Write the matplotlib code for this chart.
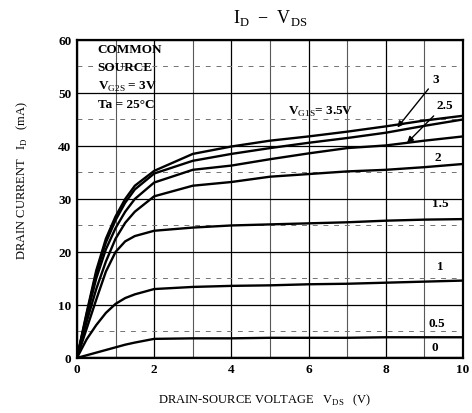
import numpy as np
import matplotlib
matplotlib.use('Agg')
import matplotlib.pyplot as plt
from matplotlib.ticker import MultipleLocator

plt.rcParams['font.family'] = ['Liberation Serif', 'DejaVu Serif']
plt.rcParams['mathtext.fontset'] = 'custom'
plt.rcParams['mathtext.rm'] = 'Liberation Serif'
plt.rcParams['mathtext.bf'] = 'Liberation Serif:bold'

# drain-source voltage points (V)
vds = [0, 0.25, 0.5, 0.75, 1, 1.25, 1.5, 2, 3, 4, 5, 6, 7, 8, 9, 10]

# drain current (mA) for each VG1S
id_35 = [0, 8.5, 16.5, 22.5, 26.7, 30.0, 32.5, 35.3, 38.5, 39.9, 41.0, 41.8, 42.7, 43.7, 44.8, 45.7]
id_30 = [0, 8.2, 16.0, 21.8, 26.0, 29.3, 31.8, 34.8, 37.2, 38.5, 39.6, 40.6, 41.5, 42.5, 43.8, 45.0]
id_25 = [0, 7.8, 15.0, 20.5, 24.5, 27.6, 30.0, 33.1, 35.5, 36.3, 37.5, 38.6, 39.6, 40.1, 41.0, 41.8]
id_20 = [0, 6.8, 13.0, 18.2, 22.5, 25.5, 27.6, 30.5, 32.5, 33.2, 34.2, 34.7, 35.2, 35.5, 36.0, 36.6]
id_15 = [0, 5.5, 11.0, 16.3, 20.0, 22.0, 23.0, 24.0, 24.6, 25.0, 25.2, 25.4, 25.6, 25.9, 26.1, 26.2]
id_10 = [0, 3.5, 6.2, 8.5, 10.2, 11.3, 12.0, 13.0, 13.4, 13.6, 13.7, 13.9, 14.0, 14.2, 14.4, 14.6]
id_05 = [0, 0.5, 1.0, 1.5, 2.0, 2.5, 2.9, 3.6, 3.7, 3.7, 3.8, 3.8, 3.8, 3.9, 3.9, 3.9]
id_00 = [0] * 16

curves = [id_35, id_30, id_25, id_20, id_15, id_10, id_05, id_00]

fig = plt.figure(figsize=(4.72, 4.14), dpi=100)
ax = fig.add_axes([0.163, 0.133, 0.818, 0.768])

for y in curves:
    ax.plot(vds, y, color='black', lw=1.7, solid_joinstyle='round')

ax.set_xlim(0, 10)
ax.set_ylim(0, 60)
ax.xaxis.set_major_locator(MultipleLocator(2))
ax.xaxis.set_minor_locator(MultipleLocator(1))
ax.yaxis.set_major_locator(MultipleLocator(10))
ax.yaxis.set_minor_locator(MultipleLocator(5))
ax.grid(which='major', color='black', lw=0.9)
ax.grid(which='minor', axis='x', color='0.35', lw=0.8)
ax.grid(which='minor', axis='y', color='0.45', lw=0.7, ls=(0, (5, 6)))
ax.set_axisbelow(True)
for s in ax.spines.values():
    s.set_linewidth(1.6)
ax.tick_params(which='both', length=0, labelsize=9.5, pad=4)
for t in ax.get_xticklabels() + ax.get_yticklabels():
    t.set_fontweight('bold')

# labels on the right side
lab_pos = {'2': (9.35, 37.9), '1.5': (9.4, 29.2), '1': (9.4, 17.4),
           '0.5': (9.33, 6.6), '0': (9.27, 2.1)}
for lab, (x, y) in lab_pos.items():
    ax.text(x, y, lab, fontsize=9.5, fontweight='bold', ha='center', va='center')

# arrows for 3 and 2.5
ax.annotate('3', xy=(8.3, np.interp(8.3, vds, id_30) + 0.6), xytext=(9.22, 52.6),
            fontsize=9.5, fontweight='bold', ha='left', va='center',
            arrowprops=dict(arrowstyle='-|>', color='black', lw=1.0,
                            shrinkA=2, shrinkB=0, mutation_scale=9))
ax.annotate('2.5', xy=(8.55, np.interp(8.55, vds, id_25)), xytext=(9.3, 47.7),
            fontsize=9.5, fontweight='bold', ha='left', va='center',
            arrowprops=dict(arrowstyle='-|>', color='black', lw=1.0,
                            shrinkA=2, shrinkB=0, mutation_scale=9))

ax.text(5.47, 46.6, r'V$_{\mathrm{G1S}}$= 3.5V', fontsize=9.5, fontweight='bold',
        ha='left', va='center')

# conditions box
ax.text(0.54, 58.3, 'COMMON', fontsize=9.5, fontweight='bold', va='center')
ax.text(0.54, 54.9, 'SOURCE', fontsize=9.5, fontweight='bold', va='center')
ax.text(0.54, 51.3, r'V$_{\mathrm{G2S}}$ = 3V', fontsize=9.5, fontweight='bold', va='center')
ax.text(0.54, 48.0, 'Ta = 25°C', fontsize=9.5, fontweight='bold', va='center')

fig.text(0.572, 0.957, r'I$_{\mathrm{D}}$  $-$  V$_{\mathrm{DS}}$', fontsize=13,
         ha='center', va='center')
fig.text(0.047, 0.565, r'DRAIN CURRENT   I$_{\mathrm{D}}$   (mA)', fontsize=9,
         rotation=90, ha='center', va='center')
fig.text(0.56, 0.034, r'DRAIN-SOURCE VOLTAGE   V$_{\mathrm{DS}}$   (V)', fontsize=9,
         ha='center', va='center')

fig.savefig('out.png', dpi=100)
